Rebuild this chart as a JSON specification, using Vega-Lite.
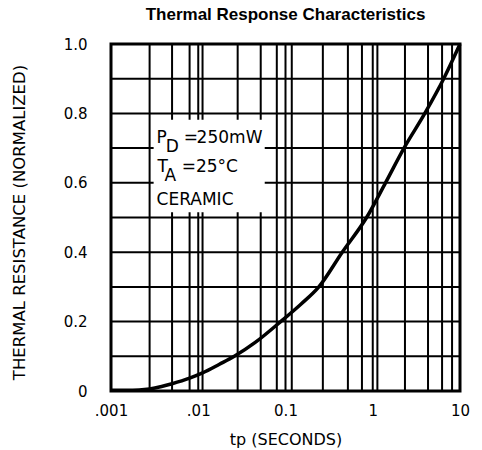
{
  "$schema": "https://vega.github.io/schema/vega-lite/v6.json",
  "autosize": "none",
  "padding": {"left": 111, "top": 44, "right": 22, "bottom": 59},
  "width": 349,
  "height": 347,
  "background": "white",
  "title": {
    "text": "Thermal Response Characteristics",
    "font": "Liberation Sans",
    "fontSize": 17,
    "fontWeight": "bold",
    "color": "black",
    "anchor": "middle",
    "frame": "group",
    "baseline": "alphabetic",
    "offset": 0
  },
  "config": {
    "view": {"stroke": "black", "strokeWidth": 3},
    "axis": {"labelColor": "black", "titleColor": "black"}
  },
  "datasets": {
    "vgrid": [
      {"tp": 0.00277}, {"tp": 0.00501}, {"tp": 0.00796}, {"tp": 0.01}, {"tp": 0.0112},
      {"tp": 0.0283}, {"tp": 0.052}, {"tp": 0.0795}, {"tp": 0.1}, {"tp": 0.118},
      {"tp": 0.268}, {"tp": 0.519}, {"tp": 0.752}, {"tp": 1}, {"tp": 1.13},
      {"tp": 2.34}, {"tp": 4.3}, {"tp": 6.23}, {"tp": 8.11}
    ],
    "hgrid": [
      {"r": 0.1}, {"r": 0.2}, {"r": 0.3}, {"r": 0.4}, {"r": 0.5},
      {"r": 0.6}, {"r": 0.7}, {"r": 0.8}, {"r": 0.9}
    ],
    "box": [{"tp": 0.00308, "tp2": 0.0578, "r": 0.515, "r2": 0.782}],
    "notes": [
      {"tp": 0.00333, "r": 0.716, "label": "P"},
      {"tp": 0.00423, "r": 0.690, "label": "D"},
      {"tp": 0.0068, "r": 0.716, "label": "="},
      {"tp": 0.00958, "r": 0.716, "label": "250mW"},
      {"tp": 0.00342, "r": 0.632, "label": "T"},
      {"tp": 0.00411, "r": 0.604, "label": "A"},
      {"tp": 0.00645, "r": 0.632, "label": "="},
      {"tp": 0.0094, "r": 0.632, "label": "25°C"},
      {"tp": 0.00333, "r": 0.535, "label": "CERAMIC"}
    ],
    "curve": [
      {"tp": 0.001, "r": 0.002},
      {"tp": 0.0015, "r": 0.002},
      {"tp": 0.0021, "r": 0.003},
      {"tp": 0.00277, "r": 0.006},
      {"tp": 0.0038, "r": 0.013},
      {"tp": 0.00501, "r": 0.021},
      {"tp": 0.00796, "r": 0.037},
      {"tp": 0.0112, "r": 0.052},
      {"tp": 0.0175, "r": 0.077},
      {"tp": 0.0259, "r": 0.100},
      {"tp": 0.045, "r": 0.140},
      {"tp": 0.0881, "r": 0.200},
      {"tp": 0.15, "r": 0.250},
      {"tp": 0.241, "r": 0.300},
      {"tp": 0.447, "r": 0.400},
      {"tp": 0.85, "r": 0.500},
      {"tp": 1.40, "r": 0.600},
      {"tp": 2.28, "r": 0.700},
      {"tp": 3.95, "r": 0.800},
      {"tp": 6.5, "r": 0.900},
      {"tp": 10, "r": 1.0}
    ]
  },
  "layer": [
    {
      "data": {"name": "curve"},
      "mark": {"type": "line", "color": "black", "strokeWidth": 0, "opacity": 0},
      "encoding": {
        "x": {
          "field": "tp", "type": "quantitative",
          "scale": {"type": "log", "domain": [0.001, 10], "nice": false},
          "axis": {
            "title": "tp (SECONDS)",
            "values": [0.001, 0.01, 0.1, 1, 10],
            "labelExpr": "datum.value < 0.005 ? '.001' : datum.value < 0.05 ? '.01' : datum.value < 0.5 ? '0.1' : datum.value < 5 ? '1' : '10'",
            "grid": false, "domain": false, "ticks": false,
            "labelFlush": false, "labelOverlap": false, "labelBound": false,
            "labelFont": "DejaVu Sans", "labelFontSize": 15, "labelPadding": 12,
            "titleFont": "DejaVu Sans", "titleFontSize": 16, "titleFontWeight": "normal", "titlePadding": 13
          }
        },
        "y": {
          "field": "r", "type": "quantitative",
          "scale": {"domain": [0, 1], "nice": false},
          "axis": {
            "title": "THERMAL RESISTANCE (NORMALIZED)",
            "values": [0, 0.2, 0.4, 0.6, 0.8, 1.0],
            "labelExpr": "datum.value == 0 ? '0' : format(datum.value, '.1f')",
            "grid": false, "domain": false, "ticks": false,
            "labelOverlap": false, "labelBound": false, "labelFlush": false,
            "labelFont": "DejaVu Sans", "labelFontSize": 15, "labelPadding": 24,
            "titleFont": "DejaVu Sans", "titleFontSize": 16.5, "titleFontWeight": "normal",
            "titleAngle": 270, "titleX": -92, "titleY": 178, "titleAlign": "center", "titleBaseline": "middle"
          }
        }
      }
    },
    {
      "data": {"name": "vgrid"},
      "mark": {"type": "rule", "color": "black", "strokeWidth": 2},
      "encoding": {
        "x": {"field": "tp", "type": "quantitative"}
      }
    },
    {
      "data": {"name": "hgrid"},
      "mark": {"type": "rule", "color": "black", "strokeWidth": 2},
      "encoding": {
        "y": {"field": "r", "type": "quantitative"}
      }
    },
    {
      "data": {"name": "box"},
      "mark": {"type": "rect", "color": "white", "strokeWidth": 0},
      "encoding": {
        "x": {"field": "tp", "type": "quantitative"},
        "x2": {"field": "tp2"},
        "y": {"field": "r", "type": "quantitative"},
        "y2": {"field": "r2"}
      }
    },
    {
      "data": {"name": "notes"},
      "mark": {"type": "text", "align": "left", "baseline": "alphabetic", "font": "DejaVu Sans", "fontSize": 17, "color": "black"},
      "encoding": {
        "x": {"field": "tp", "type": "quantitative"},
        "y": {"field": "r", "type": "quantitative"},
        "text": {"field": "label"}
      }
    },
    {
      "data": {"name": "curve"},
      "mark": {"type": "line", "color": "black", "strokeWidth": 3.5, "interpolate": "monotone"},
      "encoding": {
        "x": {"field": "tp", "type": "quantitative"},
        "y": {"field": "r", "type": "quantitative"}
      }
    }
  ]
}
